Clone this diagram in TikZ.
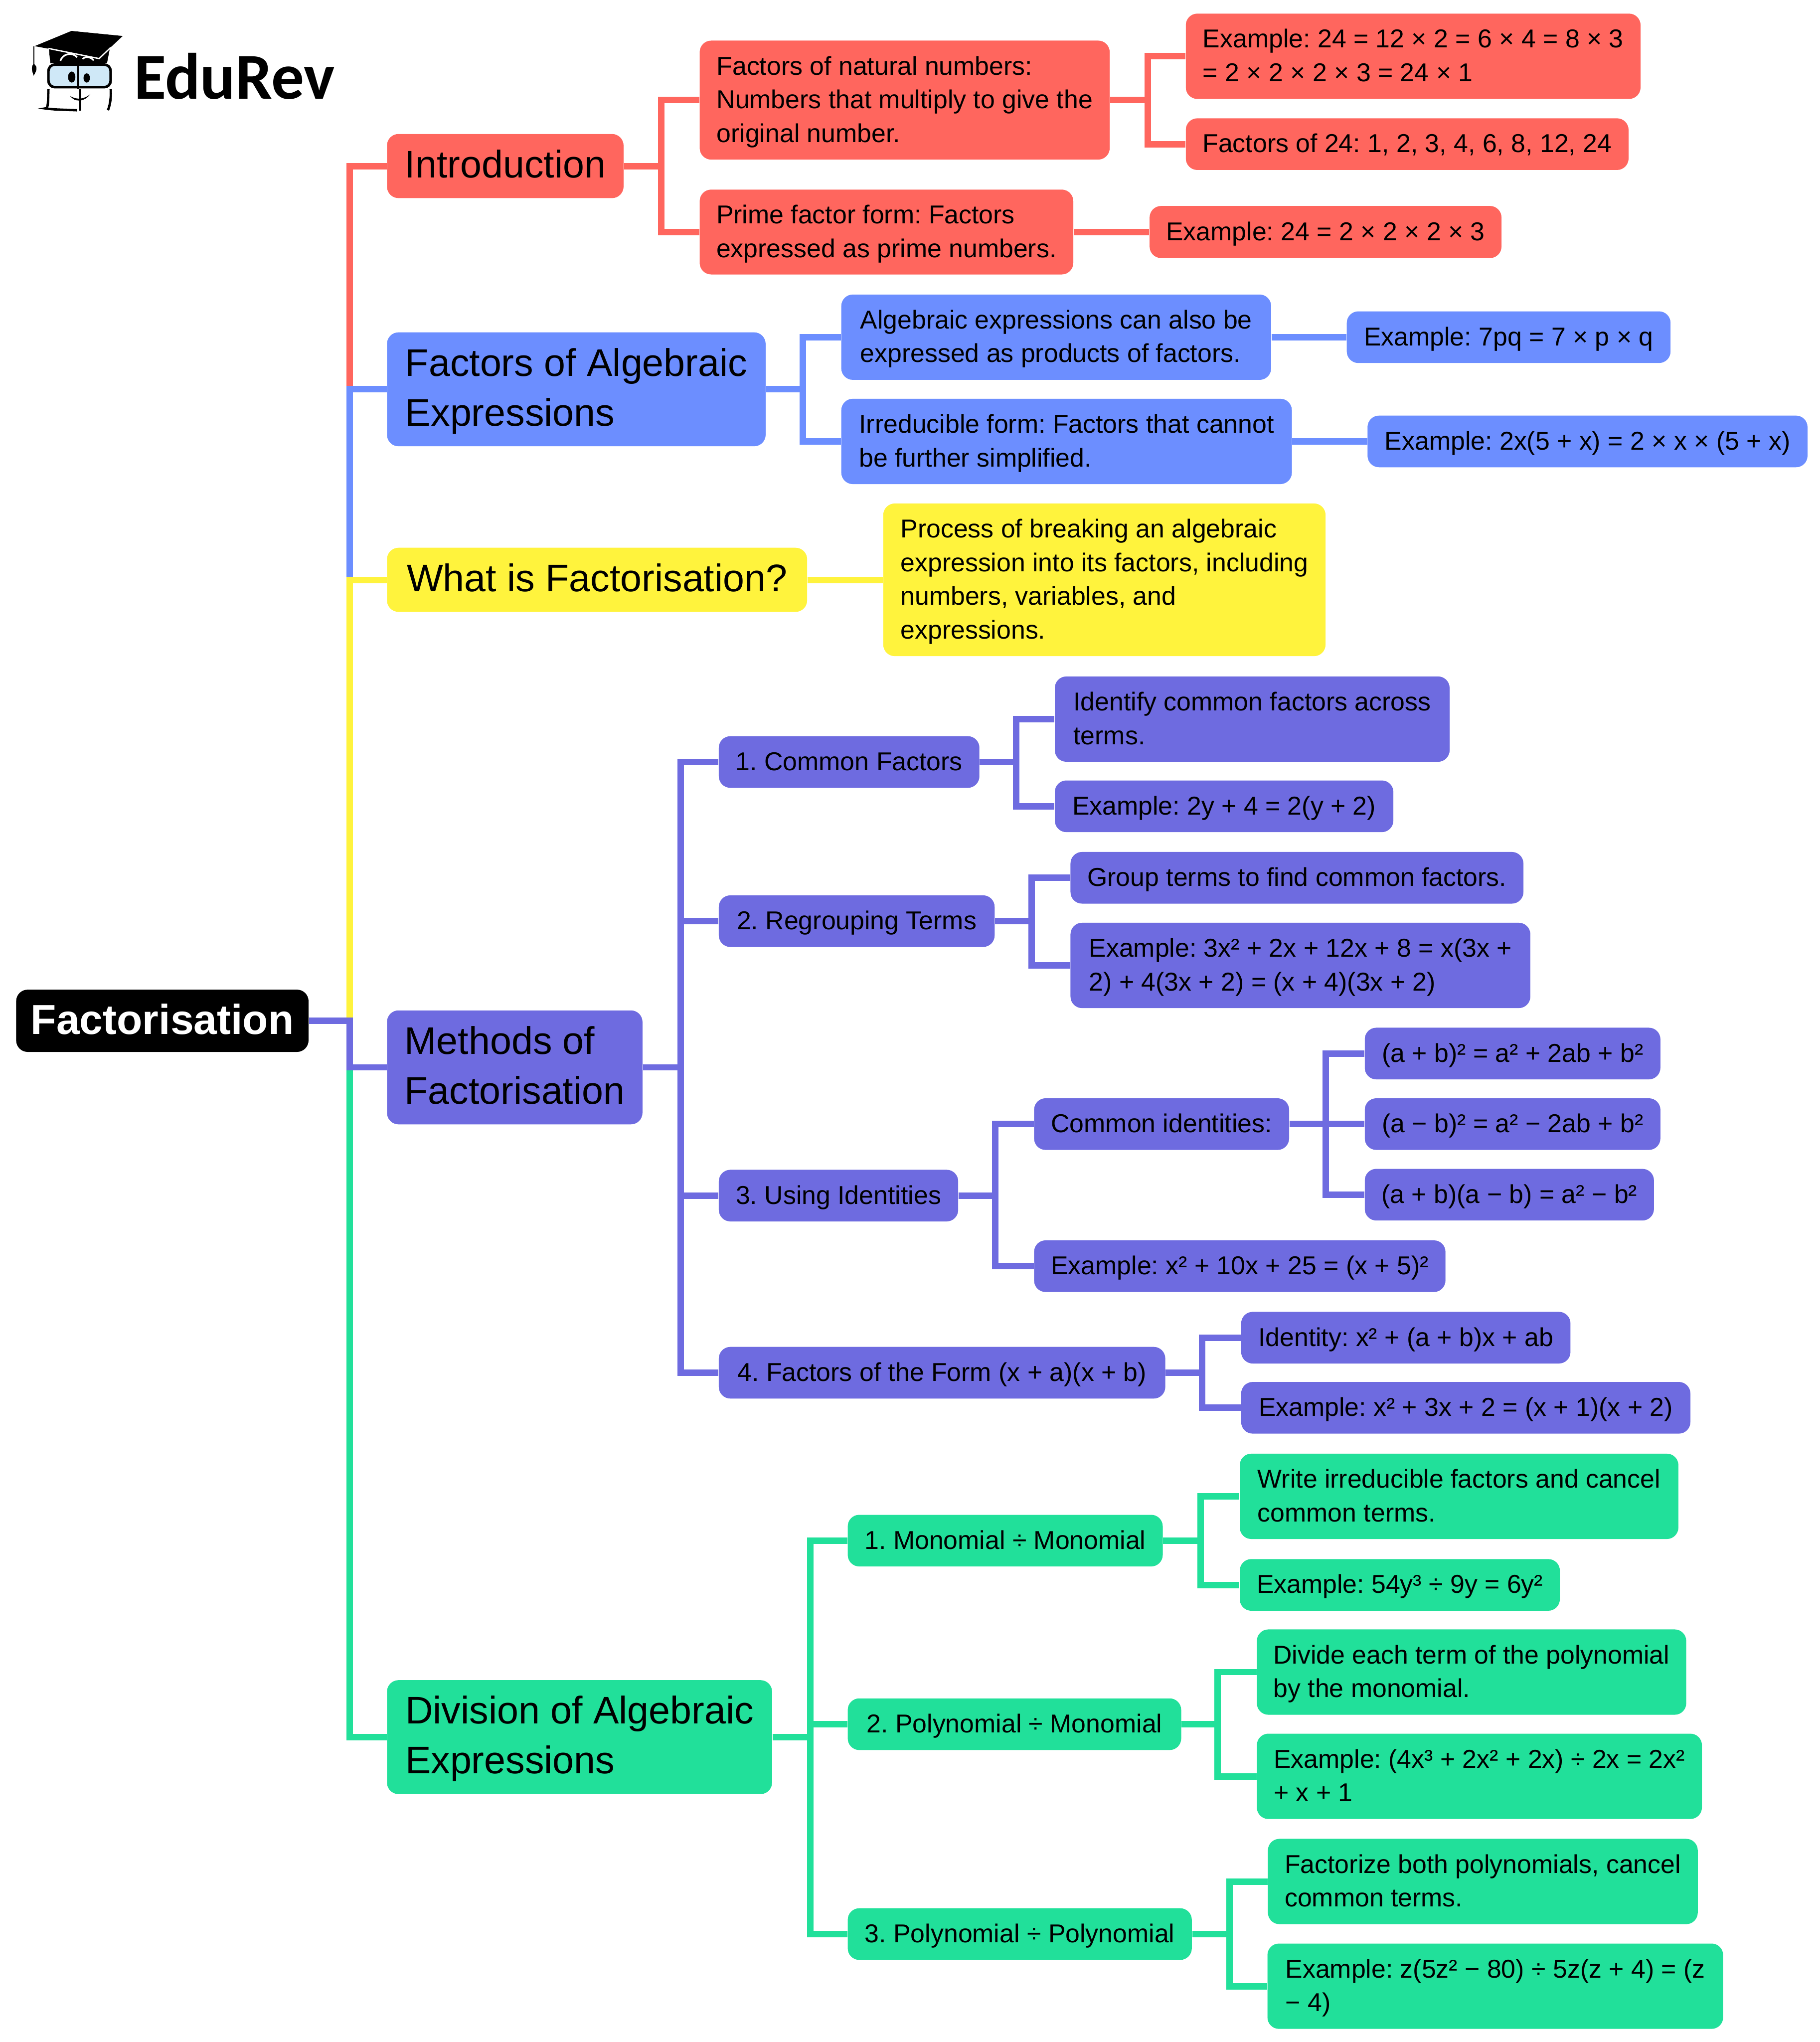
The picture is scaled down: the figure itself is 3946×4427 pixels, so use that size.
\documentclass[tikz,border=0pt]{standalone}
\usepackage{fontspec}
\setmainfont{Liberation Sans}
\newfontfamily\logofont{Carlito}
\frenchspacing
\definecolor{cred}{HTML}{FF665E}
\definecolor{cblue}{HTML}{6C8EFF}
\definecolor{cyellow}{HTML}{FFF33D}
\definecolor{cviolet}{HTML}{6E6BE0}
\definecolor{cgreen}{HTML}{21E09A}
\definecolor{cglass}{HTML}{CFE8F7}
\newcommand{\fhs}{\vrule width 0pt height 14pt depth 0pt\relax}
\newcommand{\fhb}{\vrule width 0pt height 20pt depth 0pt\relax}
\tikzset{
  wh/.style 2 args={minimum width=#1*0.25pt,minimum height=#2*0.25pt},
  base/.style={rounded corners=6.25pt,inner sep=0pt,align=left,text=black},
  sm/.style={base,font=\fontsize{14}{18.25}\selectfont,
    execute at begin node={\vrule width 0pt height 14pt depth 0pt\relax},
    execute at end node={\vrule width 0pt height 0pt depth 4.9pt\relax}},
  bg/.style={base,font=\fontsize{20.85}{27}\selectfont,
    execute at begin node={\vrule width 0pt height 20pt depth 0pt\relax},
    execute at end node={\vrule width 0pt height 0pt depth 7.4pt\relax}},
  rootbox/.style={base,fill=black,text=white,font=\fontsize{22.7}{27}\selectfont\bfseries,
    execute at begin node={\vrule width 0pt height 22pt depth 0pt\relax},
    execute at end node={\vrule width 0pt height 0pt depth 7.2pt\relax}},
  lnk/.style={line width=3.5pt,line join=miter,line cap=butt},
  R/.style={fill=cred},B/.style={fill=cblue},Y/.style={fill=cyellow},V/.style={fill=cviolet},G/.style={fill=cgreen},
  lR/.style={lnk,draw=cred},lB/.style={lnk,draw=cblue},lY/.style={lnk,draw=cyellow},lV/.style={lnk,draw=cviolet},lG/.style={lnk,draw=cgreen},
}
\begin{document}
\begin{tikzpicture}[x=0.25pt,y=-0.25pt]
\useasboundingbox (0,0) rectangle (3946,4427);
\fill[white] (0,0) rectangle (3946,4427);
% logo
\fill[black] (75,100) -- (155,67) -- (266,78) -- (215,126) -- cycle;
\fill[black] (106,106) -- (238,106) -- (232,137) -- (109,137) -- cycle;
\draw[white,line width=0.7pt] (105,105) -- (215,127) -- (240,103);
\draw[white,line width=0.9pt] (131,132) .. controls (136,115) and (158,113) .. (167,124);
\draw[white,line width=0.9pt] (179,128) .. controls (184,122) and (196,122) .. (203,131);
\draw[black,line width=0.5pt] (73.5,100) -- (73.5,138);
\fill[black] (73,138) .. controls (66,146) and (70,155) .. (73,164) .. controls (78,155) and (84,146) .. (73,138) -- cycle;
\draw[black,line width=1.4pt,fill=cglass,rounded corners=3.5pt] (105,140) rectangle (240,189);
\draw[black,line width=1.3pt,rounded corners=3.5pt] (167,239) -- (112,237) .. controls (105,236) and (104,220) .. (105,193);
\draw[black,line width=1.3pt] (234,239) .. controls (240,225) and (241,205) .. (240,193);
\draw[white,line width=0.5pt] (171,137) -- (171,240);
\draw[black,line width=1pt] (169,137) -- (169,192);
\draw[black,line width=1pt] (174,192) -- (174,240);
\fill[black] (155.5,167) ellipse [x radius=8,y radius=12];
\fill[black] (188,169) ellipse [x radius=7,y radius=10];
\fill[black] (152,208) .. controls (162,222) and (182,222) .. (196,204) .. controls (184,214) and (168,218) .. (152,208) -- cycle;
\node[anchor=base west,inner sep=0pt,font=\fontsize{35.5}{38}\selectfont\logofont\bfseries] (logo) at (290,214) {EduRev};
% nodes
\node[rootbox,wh={634}{135}] (root) at (352,2213) {Factorisation};
\node[bg,R,wh={513}{139}] (intro) at (1095.5,360) {Introduction};
\node[sm,R,wh={889}{258}] (nat) at (1961.5,217) {\fhs Factors of natural numbers:\\Numbers that multiply to give the\\original number.};
\node[sm,R,wh={986}{185}] (ex1) at (3064,122) {\fhs Example: 24 = 12 × 2 = 6 × 4 = 8 × 3\\= 2 × 2 × 2 × 3 = 24 × 1};
\node[sm,R,wh={960}{112}] (ex2) at (3051,312.5) {Factors of 24: 1, 2, 3, 4, 6, 8, 12, 24};
\node[sm,R,wh={810}{184}] (prime) at (1922,503) {\fhs Prime factor form: Factors\\expressed as prime numbers.};
\node[sm,R,wh={763}{113}] (ex3) at (2874,503) {Example: 24 = 2 × 2 × 2 × 3};
\node[bg,B,wh={821}{247}] (alg) at (1249.5,844) {\fhb Factors of Algebraic\\Expressions};
\node[sm,B,wh={932}{185}] (exprs) at (2290,731) {\fhs Algebraic expressions can also be\\expressed as products of factors.};
\node[sm,B,wh={702}{112}] (ex4) at (3271,731) {Example: 7pq = 7 × p × q};
\node[sm,B,wh={977}{185}] (irr) at (2312.5,957) {\fhs Irreducible form: Factors that cannot\\be further simplified.};
\node[sm,B,wh={954}{112}] (ex5) at (3442,957) {Example: 2x(5 + x) = 2 × x × (5 + x)};
\node[bg,Y,wh={911}{139}] (what) at (1294.5,1257) {What is Factorisation?};
\node[sm,Y,wh={959}{331}] (proc) at (2394.5,1257) {\fhs Process of breaking an algebraic\\expression into its factors, including\\numbers, variables, and\\expressions.};
\node[bg,V,wh={554}{247}] (meth) at (1116,2314) {\fhb Methods of\\Factorisation};
\node[sm,V,wh={565}{112}] (m1) at (1841,1652) {1. Common Factors};
\node[sm,V,wh={598}{112}] (m2) at (1857.5,1997) {2. Regrouping Terms};
\node[sm,V,wh={519}{112}] (m3) at (1818,2592) {3. Using Identities};
\node[sm,V,wh={968}{112}] (m4) at (2042.5,2976) {4. Factors of the Form (x + a)(x + b)};
\node[sm,V,wh={856}{185}] (m1a) at (2715,1559) {\fhs Identify common factors across\\terms.};
\node[sm,V,wh={734}{112}] (m1b) at (2654,1748) {Example: 2y + 4 = 2(y + 2)};
\node[sm,V,wh={982}{112}] (m2a) at (2812,1903) {Group terms to find common factors.};
\node[sm,V,wh={997}{185}] (m2b) at (2819.5,2093) {\fhs Example: 3x² + 2x + 12x + 8 = x(3x +\\2) + 4(3x + 2) = (x + 4)(3x + 2)};
\node[sm,V,wh={553}{112}] (m3a) at (2518.5,2437) {Common identities:};
\node[sm,V,wh={892}{112}] (m3b) at (2688,2745) {Example: x² + 10x + 25 = (x + 5)²};
\node[sm,V,wh={641}{112}] (id1) at (3279.5,2284) {(a + b)² = a² + 2ab + b²};
\node[sm,V,wh={641}{112}] (id2) at (3279.5,2437) {(a − b)² = a² − 2ab + b²};
\node[sm,V,wh={627}{112}] (id3) at (3272.5,2590) {(a + b)(a − b) = a² − b²};
\node[sm,V,wh={714}{112}] (m4a) at (3048,2900) {Identity: x² + (a + b)x + ab};
\node[sm,V,wh={974}{112}] (m4b) at (3178,3052) {Example: x² + 3x + 2 = (x + 1)(x + 2)};
\node[bg,G,wh={835}{247}] (divi) at (1256.5,3766) {\fhb Division of Algebraic\\Expressions};
\node[sm,G,wh={683}{112}] (d1) at (2179.5,3340) {1. Monomial ÷ Monomial};
\node[sm,G,wh={723}{112}] (d2) at (2199.5,3738) {2. Polynomial ÷ Monomial};
\node[sm,G,wh={746}{112}] (d3) at (2211,4193) {3. Polynomial ÷ Polynomial};
\node[sm,G,wh={951}{185}] (d1a) at (3163.5,3244) {\fhs Write irreducible factors and cancel\\common terms.};
\node[sm,G,wh={694}{112}] (d1b) at (3035,3436) {Example: 54y³ ÷ 9y = 6y²};
\node[sm,G,wh={931}{185}] (d2a) at (3190.5,3625) {\fhs Divide each term of the polynomial\\by the monomial.};
\node[sm,G,wh={965}{185}] (d2b) at (3207.5,3851) {\fhs Example: (4x³ + 2x² + 2x) ÷ 2x = 2x²\\+ x + 1};
\node[sm,G,wh={932}{185}] (d3a) at (3215,4079) {\fhs Factorize both polynomials, cancel\\common terms.};
\node[sm,G,wh={988}{185}] (d3b) at (3242,4306) {\fhs Example: z(5z² − 80) ÷ 5z(z + 4) = (z\\− 4)};
% trunk coordinates
\coordinate (t0) at (758,0);
\coordinate (tI) at (1434,0);
\coordinate (tN) at (2489,0);
\coordinate (tA) at (1741,0);
\coordinate (tM) at (1476,0);
\coordinate (tm1) at (2203,0);
\coordinate (tm2) at (2237,0);
\coordinate (tm3) at (2158,0);
\coordinate (tc) at (2874,0);
\coordinate (tm4) at (2606,0);
\coordinate (tD) at (1757,0);
\coordinate (td1) at (2603,0);
\coordinate (td2) at (2640,0);
\coordinate (td3) at (2666,0);
% connectors
\draw[lR] (root.east) -- (t0 |- root.east) -- (t0 |- intro.west) -- (intro.west);
\draw[lB] (root.east) -- (t0 |- root.east) -- (t0 |- alg.west) -- (alg.west);
\draw[lY] (root.east) -- (t0 |- root.east) -- (t0 |- what.west) -- (what.west);
\draw[lG] (root.east) -- (t0 |- root.east) -- (t0 |- divi.west) -- (divi.west);
\draw[lV] (root.east) -- (t0 |- root.east) -- (t0 |- meth.west) -- (meth.west);
\draw[lR] (intro.east) -- (tI |- intro.east) -- (tI |- nat.west) -- (nat.west);
\draw[lR] (intro.east) -- (tI |- intro.east) -- (tI |- prime.west) -- (prime.west);
\draw[lR] (nat.east) -- (tN |- nat.east) -- (tN |- ex1.west) -- (ex1.west);
\draw[lR] (nat.east) -- (tN |- nat.east) -- (tN |- ex2.west) -- (ex2.west);
\draw[lR] (prime.east) -- (ex3.west);
\draw[lB] (alg.east) -- (tA |- alg.east) -- (tA |- exprs.west) -- (exprs.west);
\draw[lB] (alg.east) -- (tA |- alg.east) -- (tA |- irr.west) -- (irr.west);
\draw[lB] (exprs.east) -- (ex4.west);
\draw[lB] (irr.east) -- (ex5.west);
\draw[lY] (what.east) -- (proc.west);
\draw[lV] (meth.east) -- (tM |- meth.east) -- (tM |- m1.west) -- (m1.west);
\draw[lV] (meth.east) -- (tM |- meth.east) -- (tM |- m2.west) -- (m2.west);
\draw[lV] (meth.east) -- (tM |- meth.east) -- (tM |- m3.west) -- (m3.west);
\draw[lV] (meth.east) -- (tM |- meth.east) -- (tM |- m4.west) -- (m4.west);
\draw[lV] (m1.east) -- (tm1 |- m1.east) -- (tm1 |- m1a.west) -- (m1a.west);
\draw[lV] (m1.east) -- (tm1 |- m1.east) -- (tm1 |- m1b.west) -- (m1b.west);
\draw[lV] (m2.east) -- (tm2 |- m2.east) -- (tm2 |- m2a.west) -- (m2a.west);
\draw[lV] (m2.east) -- (tm2 |- m2.east) -- (tm2 |- m2b.west) -- (m2b.west);
\draw[lV] (m3.east) -- (tm3 |- m3.east) -- (tm3 |- m3a.west) -- (m3a.west);
\draw[lV] (m3.east) -- (tm3 |- m3.east) -- (tm3 |- m3b.west) -- (m3b.west);
\draw[lV] (m3a.east) -- (tc |- m3a.east) -- (tc |- id1.west) -- (id1.west);
\draw[lV] (m3a.east) -- (id2.west);
\draw[lV] (m3a.east) -- (tc |- m3a.east) -- (tc |- id3.west) -- (id3.west);
\draw[lV] (m4.east) -- (tm4 |- m4.east) -- (tm4 |- m4a.west) -- (m4a.west);
\draw[lV] (m4.east) -- (tm4 |- m4.east) -- (tm4 |- m4b.west) -- (m4b.west);
\draw[lG] (divi.east) -- (tD |- divi.east) -- (tD |- d1.west) -- (d1.west);
\draw[lG] (divi.east) -- (tD |- divi.east) -- (tD |- d2.west) -- (d2.west);
\draw[lG] (divi.east) -- (tD |- divi.east) -- (tD |- d3.west) -- (d3.west);
\draw[lG] (d1.east) -- (td1 |- d1.east) -- (td1 |- d1a.west) -- (d1a.west);
\draw[lG] (d1.east) -- (td1 |- d1.east) -- (td1 |- d1b.west) -- (d1b.west);
\draw[lG] (d2.east) -- (td2 |- d2.east) -- (td2 |- d2a.west) -- (d2a.west);
\draw[lG] (d2.east) -- (td2 |- d2.east) -- (td2 |- d2b.west) -- (d2b.west);
\draw[lG] (d3.east) -- (td3 |- d3.east) -- (td3 |- d3a.west) -- (d3a.west);
\draw[lG] (d3.east) -- (td3 |- d3.east) -- (td3 |- d3b.west) -- (d3b.west);
\end{tikzpicture}
\end{document}
